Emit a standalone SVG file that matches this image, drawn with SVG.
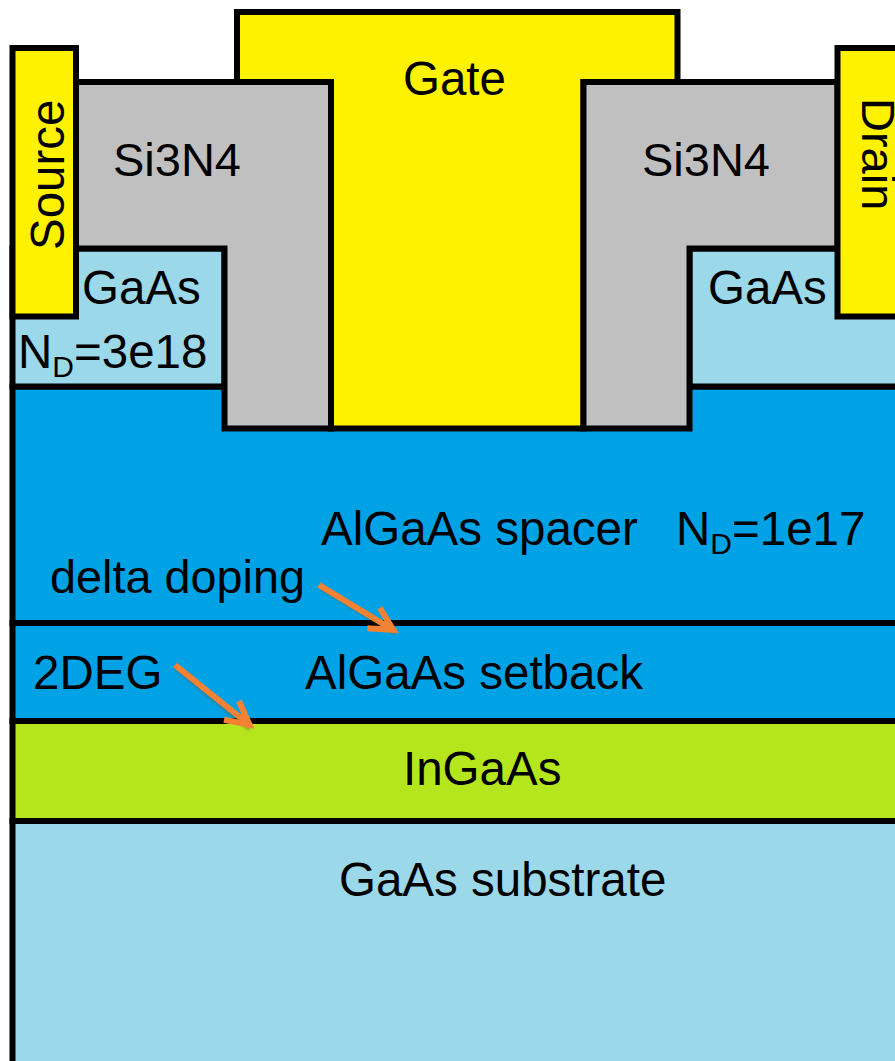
<svg xmlns="http://www.w3.org/2000/svg" width="895" height="1061" viewBox="0 0 895 1061">
<style>
.s{stroke:#000;stroke-width:6;stroke-linejoin:miter}
.y{fill:#fff200}.g{fill:#c0c0c0}.l{fill:#9bd8ea}.b{fill:#00a2e6}.n{fill:#b5e61d}
text{font-family:"Liberation Sans",Arial,sans-serif;font-size:47.5px;fill:#000}
.sub{font-size:30px}
.a{fill:none;stroke:#f58233;stroke-width:6;stroke-linecap:butt;stroke-linejoin:miter}
.sh{fill:none;stroke:#6b5a40;stroke-width:5.5;stroke-opacity:.4}
</style>
<defs>
<filter id="blur" x="-20%" y="-20%" width="140%" height="140%"><feGaussianBlur stdDeviation="1.2"/></filter>
<marker id="ah" markerUnits="userSpaceOnUse" markerWidth="44" markerHeight="44" refX="30" refY="22" orient="auto" overflow="visible">
<path d="M5 10L28 22L5 34" fill="none" stroke="#f58233" stroke-width="6"/>
</marker>
</defs>
<rect width="895" height="1061" fill="#fff"/>
<g id="substrate"><rect class="s l" x="12.500" y="821" width="890" height="250"/><text x="339" y="896">GaAs substrate</text></g>
<g id="ingaas"><rect class="s n" x="12.500" y="721" width="890" height="100"/><text x="403" y="785">InGaAs</text></g>
<g id="setback"><rect class="s b" x="12.500" y="623" width="890" height="98"/><text x="305" y="689">AlGaAs setback</text><text x="33" y="689">2DEG</text></g>
<g id="spacer"><rect class="s b" x="12.500" y="386.500" width="890" height="236.500"/><text x="321" y="545">AlGaAs spacer</text><text x="676" y="545">N<tspan class="sub" dy="9">D</tspan><tspan dy="-9">=1e17</tspan></text><text x="50" y="593" style="font-size:46.8px">delta doping</text></g>
<g id="gaas-left"><rect class="s l" x="12.500" y="248.500" width="212" height="138"/><text x="82" y="304">GaAs</text><text x="18" y="368">N<tspan class="sub" dy="9">D</tspan><tspan dy="-9">=3e18</tspan></text></g>
<g id="gaas-right"><rect class="s l" x="689.500" y="248.500" width="213" height="138"/><text x="708" y="304">GaAs</text></g>
<g id="gate"><path class="s y" d="M237 12H677.500V82H583.500V428.500H331V82H237Z"/><text x="403" y="95">Gate</text></g>
<g id="si3n4-left"><path class="s g" d="M76 82H331V428.500H224.500V248.500H76Z"/><text x="113" y="176" style="font-size:47px">Si3N4</text></g>
<g id="si3n4-right"><path class="s g" d="M583.500 82H837.500V248.500H689.500V428.500H583.500Z"/><text x="642" y="176" style="font-size:47px">Si3N4</text></g>
<g id="source"><rect class="s y" x="12.500" y="48" width="63.500" height="268.500"/><text transform="translate(64 250) rotate(-90)">Source</text></g>
<g id="drain"><rect class="s y" x="837.500" y="48" width="70" height="268.500"/><text transform="translate(862 98) rotate(90)" style="font-size:47px">Drain</text></g>
<g id="connectors">
<path class="sh" d="M320 587L396 633" filter="url(#blur)"/>
<path class="sh" d="M176 668L250 729" filter="url(#blur)"/>
<path class="a" d="M319 585L395 631" marker-end="url(#ah)"/>
<path class="a" d="M175 665L251 726" marker-end="url(#ah)"/>
</g>
</svg>
